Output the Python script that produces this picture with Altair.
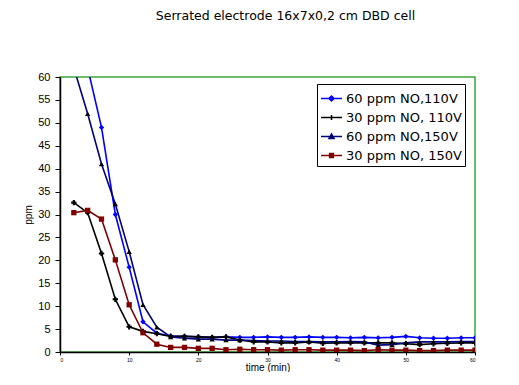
import altair as alt
import pandas as pd

# time (min) sampled every 2 minutes
times = [2, 4, 6, 8, 10, 12, 14, 16, 18, 20, 22, 24, 26, 28, 30,
         32, 34, 36, 38, 40, 42, 44, 46, 48, 50, 52, 54, 56, 58, 60]

series_names = ["60 ppm NO,110V", "30 ppm NO, 110V", "60 ppm NO,150V", "30 ppm NO, 150V"]

s60_110 = [63, 62, 49, 30, 18.5, 6.6, 4.1, 3.5, 3.4, 3.3, 3.2, 3.3, 3.2, 3.2, 3.3,
           3.2, 3.2, 3.3, 3.2, 3.2, 3.1, 3.2, 3.1, 3.2, 3.4, 3.1, 3.0, 3.0, 3.1, 3.1]
s30_110 = [32.6, 30.4, 21.5, 11.5, 5.5, 4.5, 4.0, 3.4, 3.4, 3.3, 3.2, 3.3, 2.6, 2.2, 2.2,
           2.0, 2.0, 2.2, 1.9, 2.0, 2.0, 2.0, 2.0, 2.0, 1.8, 1.6, 1.8, 1.9, 2.0, 2.0]
s60_150 = [62, 52, 41, 32.3, 21.9, 10.3, 5.4, 3.3, 3.0, 2.8, 2.8, 2.6, 2.6, 2.5, 2.4,
           2.4, 2.3, 2.3, 2.2, 2.2, 2.3, 2.2, 1.5, 1.6, 2.0, 2.2, 2.2, 2.2, 2.3, 2.3]
s30_150 = [30.4, 30.9, 29.0, 20.1, 10.3, 4.2, 1.7, 1.0, 1.0, 0.8, 0.8, 0.5, 0.6, 0.5, 0.5,
           0.4, 0.5, 0.5, 0.4, 0.4, 0.4, 0.3, 0.5, 0.4, 0.4, 0.3, 0.3, 0.4, 0.4, 0.4]

line_colors = ["#0000ff", "#000000", "#000080", "#800000"]
marker_colors = ["#0000ff", "#000000", "#000000", "#800000"]
marker_shapes = ["diamond", "cross", "triangle-up", "square"]
legend_shapes = [
    "M-1,0H1M0,-0.24L0.24,0L0,0.24L-0.24,0Z",
    "M-1,0H1M0,-0.24V0.24M-0.2,0H0.2",
    "M-1,0H1M0,-0.24L0.24,0.18L-0.24,0.18Z",
    "M-1,0H1M-0.18,-0.18H0.18V0.18H-0.18Z",
]

rows = []
for name, vals in zip(series_names, [s60_110, s30_110, s60_150, s30_150]):
    for t, v in zip(times, vals):
        rows.append({"t": t, "ppm": v, "series": name, "label": name})
df = pd.DataFrame(rows)

x = alt.X("t:Q", scale=alt.Scale(domain=[0, 60], nice=False),
          axis=alt.Axis(values=[0, 10, 20, 30, 40, 50, 60], title="time (min)",
                        labelFontSize=5, tickSize=3, titleFontSize=10, titleFontWeight="normal",
                        titleY=15, titleBaseline="middle", labelPadding=2, grid=False))
y = alt.Y("ppm:Q", scale=alt.Scale(domain=[0, 60], nice=False),
          axis=alt.Axis(values=list(range(0, 61, 5)), title="ppm", labelFontSize=11,
                        tickSize=5, labelPadding=5, titleFontSize=10, titleFontWeight="normal",
                        titleX=-27, grid=False))

base = alt.Chart(df)

lines = base.mark_line(clip=True, strokeWidth=1.6).encode(
    x=x, y=y,
    color=alt.Color("series:N", scale=alt.Scale(domain=series_names, range=line_colors), legend=None),
    detail="series:N",
)

points = base.mark_point(clip=True, filled=True, size=28, opacity=1).encode(
    x=x, y=y,
    color=alt.Color("series:N", scale=alt.Scale(domain=series_names, range=marker_colors), legend=None),
    shape=alt.Shape("series:N", scale=alt.Scale(domain=series_names, range=marker_shapes), legend=None),
)

leg = alt.Legend(title=None, orient="none", legendX=257, legendY=7, symbolSize=440,
                 symbolStrokeWidth=1.5, labelFontSize=13, labelFont="DejaVu Sans",
                 strokeColor="black", fillColor="white", padding=3, rowPadding=0,
                 labelOffset=3, labelLimit=250)

legend_layer = base.transform_filter("datum.t < 0").mark_point(filled=False, opacity=1).encode(
    x=x, y=y,
    stroke=alt.Stroke("label:N", scale=alt.Scale(domain=series_names, range=line_colors), legend=leg),
    fill=alt.Fill("label:N", scale=alt.Scale(domain=series_names, range=marker_colors), legend=leg),
    shape=alt.Shape("label:N", scale=alt.Scale(domain=series_names, range=legend_shapes), legend=leg),
)

chart = alt.layer(lines, points, legend_layer).resolve_scale(
    color="independent", shape="independent", stroke="independent", fill="independent"
).properties(
    width=415, height=275,
    title=alt.TitleParams("Serrated electrode 16x7x0,2 cm DBD cell", fontSize=12.5,
                          fontWeight="normal", font="DejaVu Sans", anchor="middle",
                          dx=18, offset=36, baseline="bottom"),
    autosize=alt.AutoSizeParams(type="none"),
    padding={"left": 52, "top": 69, "right": 30, "bottom": 20},
).configure_view(
    stroke="#3aa83a", strokeWidth=1.5
).configure_axis(
    domainColor="black", tickColor="black", labelColor="black", titleColor="black",
    labelFont="Liberation Sans", titleFont="Liberation Sans", domainWidth=1.5
)

chart.save("out.html", embed_options={"renderer": "svg", "actions": False})
